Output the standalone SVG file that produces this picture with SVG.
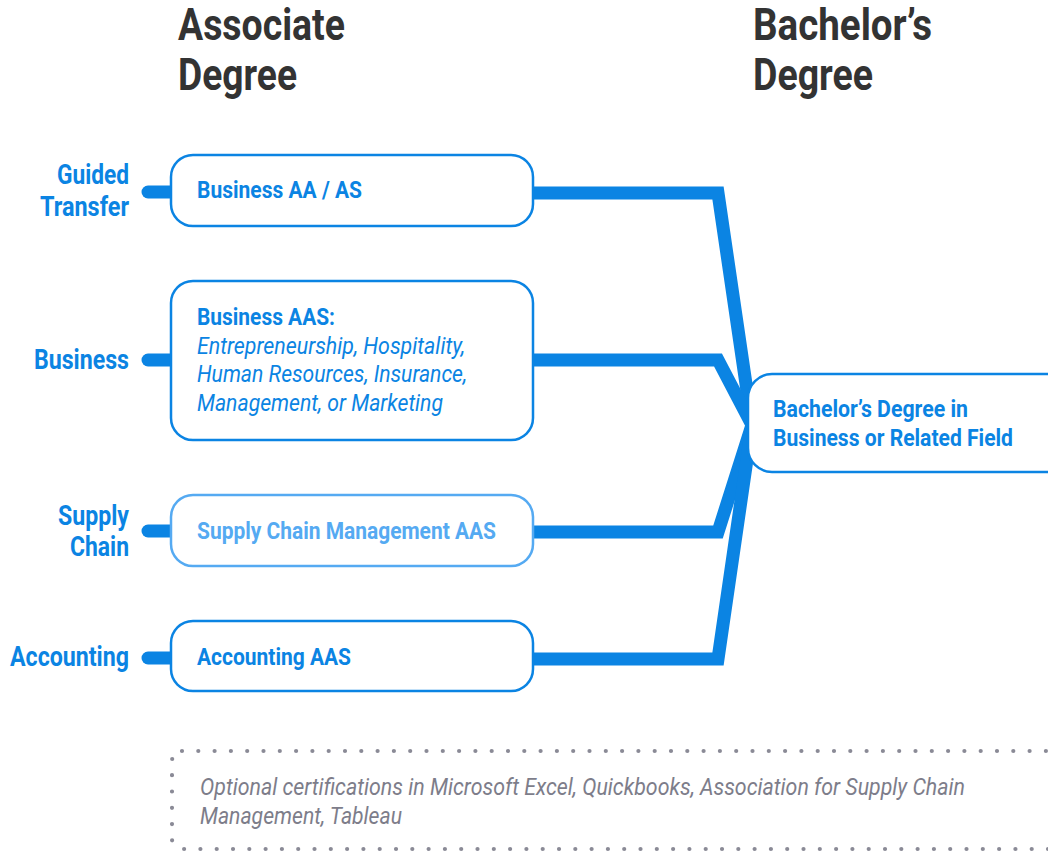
<svg xmlns="http://www.w3.org/2000/svg" width="1048" height="854" viewBox="0 0 1048 854">
<style>
.hd{font-family:Roboto,"Liberation Sans",sans-serif;font-weight:700;font-size:44px;fill:#333333}
.lb{font-family:Roboto,"Liberation Sans",sans-serif;font-weight:700;font-size:27px;fill:#0B84E3;text-anchor:end}
.bx{fill:#ffffff;stroke:#0B84E3;stroke-width:2.5}
.bxl{fill:#ffffff;stroke:#55AAF2;stroke-width:2.5}
.t{font-family:Roboto,"Liberation Sans",sans-serif;font-weight:700;font-size:24px;fill:#0B84E3}
.tl{font-family:Roboto,"Liberation Sans",sans-serif;font-weight:700;font-size:24px;fill:#55AAF2}
.ti{font-family:Roboto,"Liberation Sans",sans-serif;font-style:italic;font-size:24px;fill:#0B84E3}
.tb{font-family:Roboto,"Liberation Sans",sans-serif;font-weight:700;font-size:23.5px;fill:#0B84E3}
.con{fill:none;stroke:#0B84E3;stroke-width:13;stroke-linejoin:miter}
.stub{stroke:#0B84E3;stroke-width:13;stroke-linecap:round}
.ft{font-family:Roboto,"Liberation Sans",sans-serif;font-style:italic;font-size:24px;fill:#7D7D8A}
</style>
<rect width="1048" height="854" fill="#ffffff"/>
<g id="headers">
<text class="hd" x="178" y="40" textLength="167" lengthAdjust="spacingAndGlyphs">Associate</text>
<text class="hd" x="178" y="90" textLength="119" lengthAdjust="spacingAndGlyphs">Degree</text>
<text class="hd" x="753" y="40" textLength="179" lengthAdjust="spacingAndGlyphs">Bachelor’s</text>
<text class="hd" x="753" y="90" textLength="120" lengthAdjust="spacingAndGlyphs">Degree</text>
</g>
<g id="connectors">
<line class="stub" x1="148" y1="192" x2="172" y2="192"/>
<line class="stub" x1="148" y1="360" x2="172" y2="360"/>
<line class="stub" x1="148" y1="531" x2="172" y2="531"/>
<line class="stub" x1="148" y1="658" x2="172" y2="658"/>
<polyline class="con" points="532,193 718,193 752,425"/>
<polyline class="con" points="532,360 718,360 752,425"/>
<polyline class="con" points="532,532 718,532 752,425"/>
<polyline class="con" points="532,659 718,659 752,425"/>
</g>
<g id="label-guided">
<text class="lb" x="129" y="184" textLength="72" lengthAdjust="spacingAndGlyphs">Guided</text>
<text class="lb" x="129" y="216" textLength="89" lengthAdjust="spacingAndGlyphs">Transfer</text>
</g>
<g id="label-business">
<text class="lb" x="129" y="369" textLength="95" lengthAdjust="spacingAndGlyphs">Business</text>
</g>
<g id="label-supply">
<text class="lb" x="129" y="525" textLength="71" lengthAdjust="spacingAndGlyphs">Supply</text>
<text class="lb" x="129" y="556" textLength="59" lengthAdjust="spacingAndGlyphs">Chain</text>
</g>
<g id="label-accounting">
<text class="lb" x="129" y="666" textLength="119" lengthAdjust="spacingAndGlyphs">Accounting</text>
</g>
<g id="box-business-aa">
<rect class="bx" x="171" y="155" width="362" height="71" rx="22"/>
<text class="t" x="197" y="198" textLength="165" lengthAdjust="spacingAndGlyphs">Business AA / AS</text>
</g>
<g id="box-business-aas">
<rect class="bx" x="171" y="281" width="362" height="159" rx="22"/>
<text class="t" x="197" y="325" textLength="138" lengthAdjust="spacingAndGlyphs">Business AAS:</text>
<text class="ti" x="197" y="354" textLength="268" lengthAdjust="spacingAndGlyphs">Entrepreneurship, Hospitality,</text>
<text class="ti" x="197" y="382" textLength="270" lengthAdjust="spacingAndGlyphs">Human Resources, Insurance,</text>
<text class="ti" x="197" y="411" textLength="246" lengthAdjust="spacingAndGlyphs">Management, or Marketing</text>
</g>
<g id="box-supply-chain">
<rect class="bxl" x="171" y="495" width="362" height="71" rx="22"/>
<text class="tl" x="197" y="539" textLength="299" lengthAdjust="spacingAndGlyphs">Supply Chain Management AAS</text>
</g>
<g id="box-accounting">
<rect class="bx" x="171" y="621" width="362" height="70" rx="22"/>
<text class="t" x="197" y="665" textLength="154" lengthAdjust="spacingAndGlyphs">Accounting AAS</text>
</g>
<g id="box-bachelor">
<rect class="bx" x="748" y="374" width="330" height="98" rx="24"/>
<text class="tb" x="773" y="417" textLength="195" lengthAdjust="spacingAndGlyphs">Bachelor’s Degree in</text>
<text class="tb" x="773" y="446" textLength="240" lengthAdjust="spacingAndGlyphs">Business or Related Field</text>
</g>
<g id="note">
<rect x="172" y="751" width="920" height="98" rx="10" fill="none" stroke="#8A8A96" stroke-width="4.2" stroke-linecap="round" stroke-dasharray="0 16.3"/>
<text class="ft" x="200" y="795" textLength="765" lengthAdjust="spacingAndGlyphs">Optional certifications in Microsoft Excel, Quickbooks, Association for Supply Chain</text>
<text class="ft" x="200" y="824" textLength="202" lengthAdjust="spacingAndGlyphs">Management, Tableau</text>
</g>
</svg>
